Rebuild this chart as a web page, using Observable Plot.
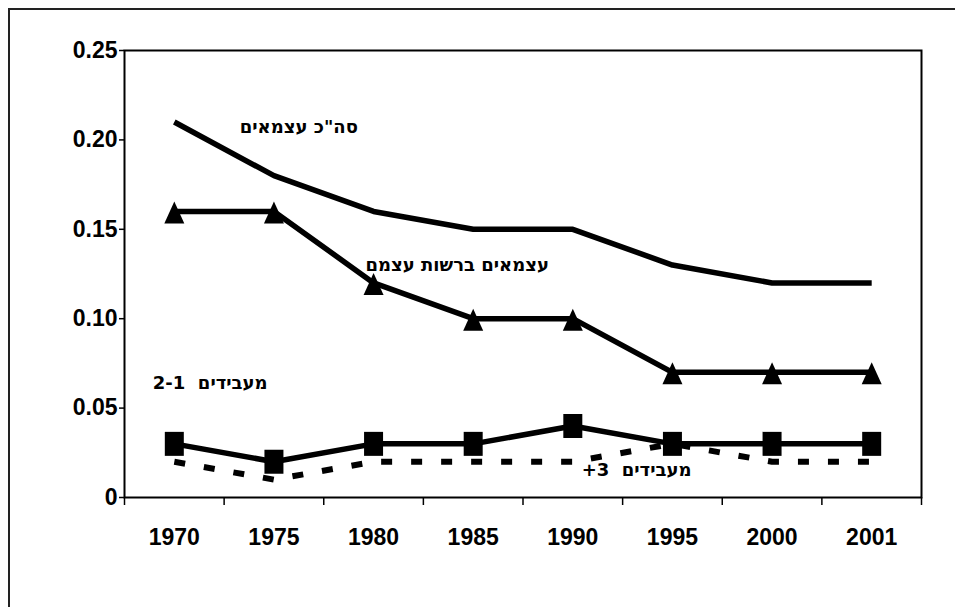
<!DOCTYPE html>
<html>
<head>
<meta charset="utf-8">
<script src="https://cdn.jsdelivr.net/npm/d3@7"></script>
<script src="https://cdn.jsdelivr.net/npm/@observablehq/plot@0.6"></script>
<style>
  html, body { margin: 0; padding: 0; background: #fff; }
  #wrap { position: relative; width: 955px; height: 607px; overflow: hidden; }
  #border { position: absolute; left: 8px; top: 8px; width: 1000px; height: 700px;
            border-left: 2px solid #222; border-top: 2px solid #222; pointer-events: none; }
</style>
</head>
<body>
<div id="wrap"><div id="border"></div></div>
<script>
// ---- data ----
const years = ["1970", "1975", "1980", "1985", "1990", "1995", "2000", "2001"];
const totalSelfEmployed = [0.21, 0.18, 0.16, 0.15, 0.15, 0.13, 0.12, 0.12];
const ownAccount = [0.16, 0.16, 0.12, 0.10, 0.10, 0.07, 0.07, 0.07];
const employers1to2 = [0.03, 0.02, 0.03, 0.03, 0.04, 0.03, 0.03, 0.03];
const employers3plus = [0.02, 0.01, 0.02, 0.02, 0.02, 0.03, 0.02, 0.02];
const yTicks = [0, 0.05, 0.10, 0.15, 0.20, 0.25];
const yTickLabels = ["0", "0.05", "0.10", "0.15", "0.20", "0.25"];
// series labels placed in data space (x = year position, y = value)
const labelTexts = ["סה\"כ עצמאים", "עצמאים ברשות עצמם", "2-1  מעבידים", "+3  מעבידים"];
const labelX = [1.75, 3.34, 0.86, 5.14];
const labelY = [0.207, 0.130, 0.0637, 0.0150];

// ---- tables ----
const rows = (vals) => vals.map((v, i) => ({year: years[i], pos: i + 0.5, value: v}));
const total = rows(totalSelfEmployed);
const own = rows(ownAccount);
const emp12 = rows(employers1to2);
const emp3 = rows(employers3plus);
const labels = labelTexts.map((t, i) => ({text: t, x: labelX[i], y: labelY[i]}));
const labelPos = years.map((y, i) => i + 0.5);
const boundaries = d3.range(years.length + 1);

// custom symbols
const triangle = {draw(ctx) { ctx.moveTo(0, -10); ctx.lineTo(10, 12); ctx.lineTo(-10, 12); ctx.closePath(); }};
const box = {draw(ctx) { ctx.moveTo(-9.5, -12); ctx.lineTo(9.5, -12); ctx.lineTo(9.5, 12); ctx.lineTo(-9.5, 12); ctx.closePath(); }};

const chart = Plot.plot({
  width: 955,
  height: 607,
  marginLeft: 124,
  marginRight: 34,
  marginTop: 50,
  marginBottom: 110,
  style: {fontFamily: "'Liberation Sans', Arial, sans-serif", fontWeight: "bold", fontSize: "23px", color: "black", background: "white", overflow: "visible"},
  x: {type: "linear", domain: [0, years.length], axis: null},
  y: {domain: [0, 0.25], axis: null},
  marks: [
    Plot.line(emp3, {x: "pos", y: "value", stroke: "black", strokeWidth: 6, strokeDasharray: "11,19", strokeLinecap: "butt", strokeLinejoin: "miter"}),
    Plot.line(emp12, {x: "pos", y: "value", stroke: "black", strokeWidth: 5.5, strokeLinecap: "butt"}),
    Plot.line(own, {x: "pos", y: "value", stroke: "black", strokeWidth: 5.5, strokeLinecap: "butt"}),
    Plot.line(total, {x: "pos", y: "value", stroke: "black", strokeWidth: 5.5, strokeLinecap: "butt"}),
    Plot.dot(own, {x: "pos", y: "value", symbol: triangle, fill: "black", stroke: "none"}),
    Plot.dot(emp12, {x: "pos", y: "value", symbol: box, fill: "black", stroke: "none"}),
    Plot.frame({stroke: "black", strokeWidth: 2}),
    Plot.axisY(yTicks, {ticks: yTicks, tickSize: 5, tickPadding: 2, tickFormat: d => yTickLabels[yTicks.indexOf(d)], stroke: "black", strokeWidth: 1.5, fontSize: 23, fontWeight: "bold"}),
    Plot.axisX({ticks: boundaries, tickSize: 8, tickFormat: () => "", stroke: "black", strokeWidth: 1.5}),
    Plot.axisX({ticks: labelPos, tickSize: 0, tickPadding: 31, tickFormat: d => years[labelPos.indexOf(d)], fontSize: 23, fontWeight: "bold"}),
    Plot.text(labels, {x: "x", y: "y", text: "text", fontSize: 18, fontWeight: "bold", fontFamily: "'DejaVu Sans', sans-serif", fill: "black", textAnchor: "middle"})
  ]
});
document.getElementById("wrap").insertBefore(chart, document.getElementById("border"));
</script>
</body>
</html>
